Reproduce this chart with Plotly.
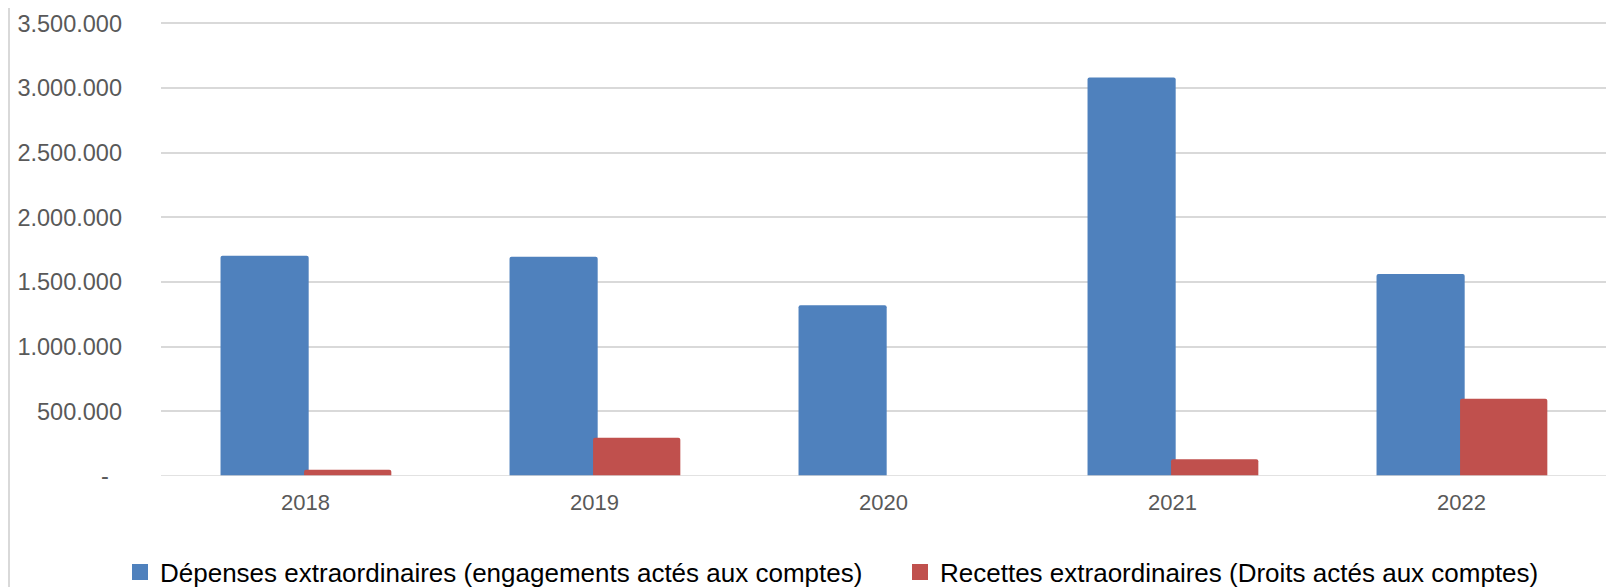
import plotly.graph_objects as go

years = ["2018", "2019", "2020", "2021", "2022"]
depenses = [1702000, 1695000, 1321000, 3081000, 1561000]
recettes = [48000, 296000, 0, 129000, 597000]

y_tickvals = [0, 500000, 1000000, 1500000, 2000000, 2500000, 3000000, 3500000]
y_ticktext = ["-\u00a0\u00a0", "500.000", "1.000.000", "1.500.000", "2.000.000",
              "2.500.000", "3.000.000", "3.500.000"]

name_dep = "Dépenses extraordinaires (engagements actés aux comptes)"
name_rec = "Recettes extraordinaires (Droits actés aux comptes)"

BLUE = "#4F81BD"
RED = "#C0504D"
GRID = "#D9D9D9"
FONT = "Liberation Sans, Arial, sans-serif"

fig = go.Figure()
fig.add_trace(go.Bar(
    x=years, y=depenses, name=name_dep, showlegend=False,
    marker=dict(color=BLUE, line=dict(width=0)),
    offset=-0.294, width=0.305,
))
fig.add_trace(go.Bar(
    x=years, y=recettes, name=name_rec, showlegend=False,
    marker=dict(color=RED, line=dict(width=0)),
    offset=-0.005, width=0.302,
))
# legend entries (square swatches like the original)
for nm, col, lg in [(name_dep, BLUE, "legend"), (name_rec, RED, "legend2")]:
    fig.add_trace(go.Scatter(
        x=[None], y=[None], mode="markers", name=nm, legend=lg,
        marker=dict(symbol="square", size=16, color=col),
        hoverinfo="skip",
    ))

# the page body adds an 8px offset; the figure is sized to fill the rest
W, H = 1606, 579
ml, mr, mt, mb = 153, 8, 14, 111
pw = W - ml - mr
ph = H - mt - mb

leg_y = 1 - (564 - mt) / ph
leg_common = dict(
    orientation="h",
    xref="paper", yref="paper",
    xanchor="left", yanchor="middle",
    y=leg_y,
    font=dict(family=FONT, size=26, color="#000000"),
    itemsizing="trace",
    itemclick=False, itemdoubleclick=False,
    bgcolor="rgba(0,0,0,0)",
)

fig.update_layout(
    width=W, height=H,
    margin=dict(l=ml, r=mr, t=mt, b=mb, pad=0, autoexpand=False),
    paper_bgcolor="white", plot_bgcolor="white",
    barmode="overlay",
    barcornerradius=2,
    font=dict(family=FONT, color="#595959", size=22),
    showlegend=True,
    legend=dict(x=(112 - ml) / pw, **leg_common),
    legend2=dict(x=(892 - ml) / pw, **leg_common),
    xaxis=dict(
        type="category",
        range=[-0.5, 4.5],
        showgrid=False, showline=False, zeroline=False,
        ticks="", tickfont=dict(size=22, color="#595959"),
        ticklabelstandoff=11,
        fixedrange=True,
    ),
    yaxis=dict(
        range=[0, 3510000],
        tickvals=y_tickvals, ticktext=y_ticktext,
        showgrid=True, gridcolor=GRID, gridwidth=1.5,
        zeroline=False, showline=False, ticks="",
        tickfont=dict(size=23.5, color="#595959"),
        ticklabelstandoff=38,
        fixedrange=True,
    ),
    shapes=[
        dict(type="line", xref="paper", yref="y", x0=0, x1=1, y0=0, y1=0,
             line=dict(color=GRID, width=1.5), layer="above"),
        dict(type="line", xref="paper", yref="paper",
             x0=(1 - ml) / pw, x1=(1 - ml) / pw,
             y0=-(mb + 5) / ph, y1=1 + (mt + 5) / ph,
             line=dict(color=GRID, width=2), layer="above"),
    ],
)

fig.write_html("out.html")
